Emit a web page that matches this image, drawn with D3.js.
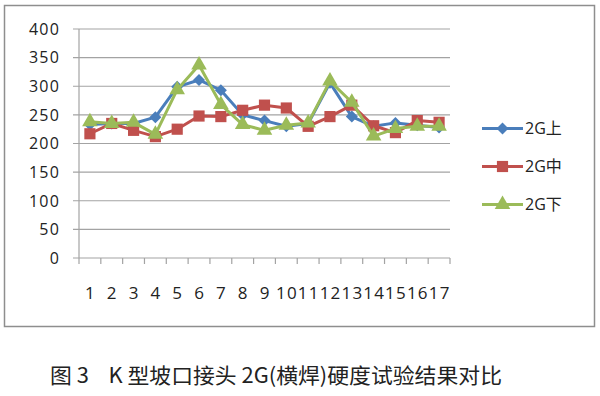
<!DOCTYPE html>
<meta charset="utf-8">
<style>
    body { margin: 0; background: #fff; }
    .tick-label { font-family: "Open Sans", sans-serif; font-size: 16px; fill: #222; letter-spacing: 1.2px; }
    .legend { font-family: "Open Sans", "Noto Sans CJK SC", sans-serif; font-size: 16px; fill: #222; }
    .title { font-family: "Noto Sans CJK SC", sans-serif; font-size: 21px; fill: #222; }
    .grid line { stroke: #a3a3a3; stroke-width: 1.2px; }
    .series { fill: none; stroke-width: 3px; stroke-linejoin: round; }
</style>
<svg width="600" height="396"></svg>
<script src="https://d3js.org/d3.v7.min.js"></script>
<script>
    // values
    const categories = d3.range(1, 18).map(String);
    const yTicks = [0, 50, 100, 150, 200, 250, 300, 350, 400];
    const upper = [233, 235, 235, 246, 299, 311, 293, 250, 240, 230, 235, 306, 247, 230, 236, 232, 228];
    const middle = [217, 235, 223, 212, 225, 248, 247, 258, 267, 262, 230, 247, 267, 231, 219, 240, 237];
    const lower = [238, 235, 237, 216, 294, 337, 268, 233, 223, 232, 236, 309, 272, 213, 226, 230, 230];
    const seriesNames = ["2G上", "2G中", "2G下"];
    const title = "图 3    K 型坡口接头 2G(横焊)硬度试验结果对比";

    const series = [
        { name: seriesNames[0], values: upper, color: "#4a7ebb", shape: "diamond" },
        { name: seriesNames[1], values: middle, color: "#c0504d", shape: "square" },
        { name: seriesNames[2], values: lower, color: "#9bbb59", shape: "triangle" }
    ];

    const svg = d3.select("svg");
    const plot = { left: 79, right: 450, top: 29, bottom: 258 };

    // outer frame
    svg.append("rect")
        .attr("x", 4.5).attr("y", 5.5)
        .attr("width", 590).attr("height", 321)
        .attr("fill", "none")
        .attr("stroke", "#8e8e8e")
        .attr("stroke-width", 1.5);

    const x = d3.scaleBand().domain(categories).range([plot.left, plot.right]).padding(0);
    const y = d3.scaleLinear().domain([0, 400]).range([plot.bottom, plot.top]);

    // gridlines
    svg.append("g")
        .attr("class", "grid")
        .selectAll("line")
        .data(yTicks)
        .enter().append("line")
        .attr("x1", plot.left - 6).attr("x2", plot.right)
        .attr("y1", d => y(d)).attr("y2", d => y(d));

    // y axis line
    svg.append("line")
        .attr("x1", plot.left).attr("x2", plot.left)
        .attr("y1", y(400)).attr("y2", y(0))
        .attr("stroke", "#a3a3a3").attr("stroke-width", 1.2);

    // y tick labels
    svg.append("g")
        .selectAll("text")
        .data(yTicks)
        .enter().append("text")
        .attr("class", "tick-label")
        .attr("x", plot.left - 19)
        .attr("y", d => y(d))
        .attr("dy", "0.36em")
        .attr("text-anchor", "end")
        .text(d => d);

    // x tick marks at category boundaries
    const bounds = categories.map(c => x(c)).concat([plot.right]);
    svg.append("g")
        .selectAll("line")
        .data(bounds)
        .enter().append("line")
        .attr("x1", d => d).attr("x2", d => d)
        .attr("y1", y(0)).attr("y2", y(0) + 6)
        .attr("stroke", "#a3a3a3").attr("stroke-width", 1.2);

    // x labels
    svg.append("g")
        .selectAll("text")
        .data(categories)
        .enter().append("text")
        .attr("class", "tick-label")
        .attr("x", d => x(d) + x.bandwidth() / 2 + 0.6)
        .attr("y", 293)
        .attr("dy", "0.36em")
        .attr("text-anchor", "middle")
        .style("font-size", "17px")
        .style("letter-spacing", "1.2px")
        .text(d => d);

    function marker(shape) {
        if (shape === "diamond") return d3.symbol().type(d3.symbolSquare).size(72)();
        if (shape === "square") return d3.symbol().type(d3.symbolSquare).size(125)();
        return d3.symbol().type(d3.symbolTriangle).size(105)();
    }

    const line = d3.line()
        .x((d, i) => x(categories[i]) + x.bandwidth() / 2)
        .y(d => y(d));

    series.forEach(s => {
        const g = svg.append("g");
        g.append("path")
            .datum(s.values)
            .attr("class", "series")
            .attr("stroke", s.color)
            .attr("d", line);
        g.selectAll("path.m")
            .data(s.values)
            .enter().append("path")
            .attr("class", "m")
            .attr("d", marker(s.shape))
            .attr("fill", s.color)
            .attr("transform", (d, i) => `translate(${x(categories[i]) + x.bandwidth() / 2},${y(d)})` + (s.shape === "diamond" ? " rotate(45)" : ""));
    });

    // legend
    const legendY = [128.5, 166.5, 204.5];
    series.forEach((s, i) => {
        const g = svg.append("g").attr("transform", `translate(482,${legendY[i]})`);
        g.append("line")
            .attr("x1", 0).attr("x2", 41)
            .attr("stroke", s.color).attr("stroke-width", 3);
        g.append("path")
            .attr("d", marker(s.shape))
            .attr("fill", s.color)
            .attr("transform", `translate(20.5,0)` + (s.shape === "diamond" ? " rotate(45)" : ""));
        g.append("text")
            .attr("class", "legend")
            .attr("x", 43)
            .attr("dy", "0.36em")
            .text(s.name);
    });

    // caption
    svg.append("text")
        .attr("class", "title")
        .attr("x", 50)
        .attr("y", 375)
        .attr("dy", "0.36em")
        .attr("textLength", 452)
        .attr("lengthAdjust", "spacingAndGlyphs")
        .style("white-space", "pre")
        .text(title);
</script>
